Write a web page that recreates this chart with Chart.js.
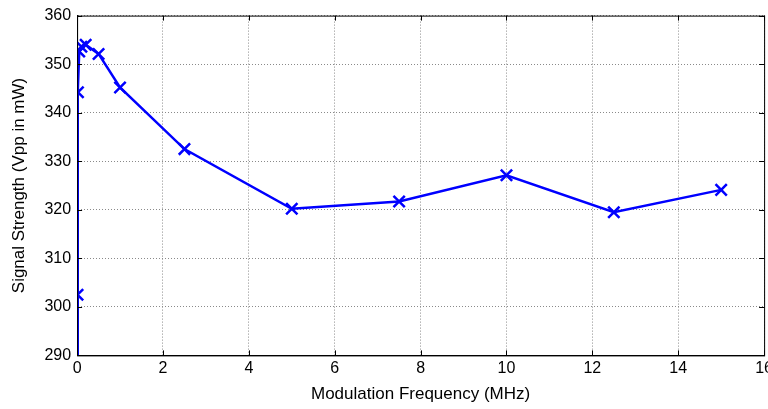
<!DOCTYPE html>
<html>
<head>
<meta charset="utf-8">
<script src="https://cdn.jsdelivr.net/npm/chart.js@4/dist/chart.umd.min.js"></script>
<style>
  body { margin: 0; background: #fff; overflow: hidden; }
  #wrap { width: 777px; height: 409px; }
</style>
</head>
<body>
<div id="wrap"><canvas id="chart"></canvas></div>
<script>
// datos
const freqMHz = [0, 0.01, 0.02, 0.05, 0.1, 0.2, 0.5, 1, 2.5, 5, 7.5, 10, 12.5, 15];
const signalMw = [0, 302.5, 344.2, 352.6, 353.6, 354.0, 352.1, 345.2, 332.5, 320.2, 321.7, 327.1, 319.5, 324.1];
const xTicks = [0, 2, 4, 6, 8, 10, 12, 14, 16];
const yTicks = [290, 300, 310, 320, 330, 340, 350, 360];

// el primer punto queda fuera del eje (no se ve marcador)
const puntos = freqMHz.map((f, i) => ({ x: f, y: signalMw[i] }));
const radios = signalMw.map(v => v < 290 ? 0 : 8);

// caja negra y ticks hacia dentro, estilo matlab
const cajaPlugin = {
    id: 'caja',
    afterDraw(chart) {
        const { ctx, chartArea: a, scales } = chart;
        ctx.save();
        ctx.strokeStyle = '#000';
        ctx.lineWidth = 1;
        ctx.setLineDash([]);
        ctx.strokeRect(a.left + 0.5, a.top + 0.5, a.right - a.left, a.bottom - a.top);
        ctx.beginPath();
        xTicks.forEach(t => {
            const px = Math.round(scales.x.getPixelForValue(t)) + 0.5;
            ctx.moveTo(px, a.bottom); ctx.lineTo(px, a.bottom - 5);
            ctx.moveTo(px, a.top); ctx.lineTo(px, a.top + 5);
        });
        yTicks.forEach(t => {
            const py = Math.round(scales.y.getPixelForValue(t)) + 0.5;
            ctx.moveTo(a.left, py); ctx.lineTo(a.left + 5, py);
            ctx.moveTo(a.right, py); ctx.lineTo(a.right - 5, py);
        });
        ctx.stroke();
        ctx.restore();
    }
};

Chart.defaults.font.family = '"Liberation Sans", Arial, sans-serif';
Chart.defaults.font.size = 16;
Chart.defaults.color = '#000';

new Chart(document.getElementById('chart'), {
    type: 'line',
    data: {
        datasets: [{
            data: puntos,
            borderColor: '#0000ff',
            backgroundColor: '#0000ff',
            borderWidth: 2.5,
            pointStyle: 'crossRot',
            pointRadius: radios,
            pointBorderWidth: 2.5,
            pointBorderColor: '#0000ff',
            tension: 0,
            fill: false
        }]
    },
    options: {
        responsive: true,
        maintainAspectRatio: false,
        animation: false,
        layout: { padding: { top: 11, left: 9, bottom: 4, right: 0 } },
        plugins: { legend: { display: false }, tooltip: { enabled: false } },
        scales: {
            x: {
                type: 'linear',
                min: 0, max: 16,
                afterBuildTicks: axis => { axis.ticks = xTicks.map(v => ({ value: v })); },
                grid: { color: '#8a8a8a', drawTicks: false },
                border: { dash: [1, 2], color: '#000' },
                ticks: { padding: 4 },
                title: { display: true, text: 'Modulation Frequency (MHz)', font: { size: 17 }, padding: { top: 2, bottom: 0 } }
            },
            y: {
                min: 290, max: 360,
                afterBuildTicks: axis => { axis.ticks = yTicks.map(v => ({ value: v })); },
                grid: { color: '#8a8a8a', drawTicks: false },
                border: { dash: [1, 2], color: '#000' },
                ticks: { padding: 6 },
                title: { display: true, text: 'Signal Strength (Vpp in mW)', font: { size: 17 }, padding: { top: 0, bottom: 9 } }
            }
        }
    },
    plugins: [cajaPlugin]
});
</script>
</body>
</html>
